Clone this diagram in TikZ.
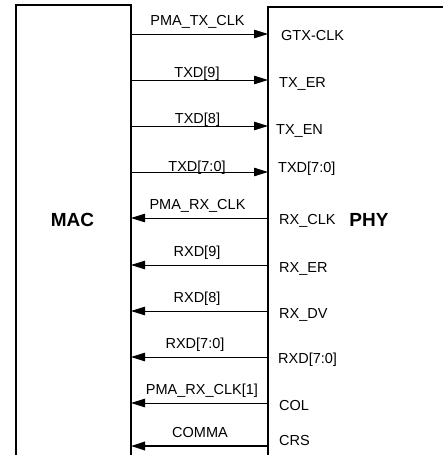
\documentclass[tikz,border=0pt]{standalone}
\usepackage{fontspec}
\setmainfont{Liberation Sans}
\usetikzlibrary{arrows.meta}
\begin{document}
\begin{tikzpicture}[x=1pt,y=-1pt,
  box/.style={line width=2pt},
  sig/.style={line width=1pt,-{Triangle[length=14pt,width=8.5pt]}},
  sigthick/.style={line width=1.8pt,-{Triangle[length=14pt,width=8.5pt]}},
  lbl/.style={font=\fontsize{14.5}{17}\selectfont,inner sep=0pt,anchor=base},
  port/.style={font=\fontsize{14.5}{17}\selectfont,inner sep=0pt,anchor=base west},
  big/.style={font=\fontsize{19}{22}\selectfont\bfseries,inner sep=0pt,anchor=base}]
\useasboundingbox (0,0) rectangle (443,455);
% boxes
\draw[box] (16,460) -- (16,5) -- (131,5) -- (131,460);
\draw[box] (268,460) -- (268,7) -- (450,7);
\node[big] (mac) at (72.5,226) {MAC};
\node[big] (phy) at (369,226) {PHY};
% edge coordinates
\foreach \i/\y in {1/34,2/80,3/126,4/172,5/218,6/265,7/311,8/357,9/403,10/446}{
  \coordinate (m\i) at (131,\y);
  \coordinate (p\i) at (268,\y);
}
% transmit
\draw[sig] (m1) -- (p1);
\draw[sig] (m2) -- (p2);
\draw[sig] (m3) -- (p3);
\draw[sig] (m4) -- (p4);
% receive
\draw[sig] (p5) -- (m5);
\draw[sig] (p6) -- (m6);
\draw[sig] (p7) -- (m7);
\draw[sig] (p8) -- (m8);
\draw[sig] (p9) -- (m9);
\draw[sigthick] (p10) -- (m10);
% signal labels
\node[lbl] (s1) at (197.5,25) {PMA\_TX\_CLK};
\node[lbl] (s2) at (197,77) {TXD[9]};
\node[lbl] (s3) at (197.5,123) {TXD[8]};
\node[lbl] (s4) at (197,171) {TXD[7:0]};
\node[lbl] (s5) at (197.5,209) {PMA\_RX\_CLK};
\node[lbl] (s6) at (197,256) {RXD[9]};
\node[lbl] (s7) at (197,302) {RXD[8]};
\node[lbl] (s8) at (195,348.5) {RXD[7:0]};
\node[lbl] (s9) at (202,394.5) {PMA\_RX\_CLK[1]};
\node[lbl] (s10) at (200,437) {COMMA};
% port labels
\node[port] (q1) at (281,40) {GTX-CLK};
\node[port] (q2) at (279,87) {TX\_ER};
\node[port] (q3) at (276,134) {TX\_EN};
\node[port] (q4) at (278,172) {TXD[7:0]};
\node[port] (q5) at (279,224) {RX\_CLK};
\node[port] (q6) at (279,272) {RX\_ER};
\node[port] (q7) at (279,318) {RX\_DV};
\node[port] (q8) at (278,363.5) {RXD[7:0]};
\node[port] (q9) at (279,410.5) {COL};
\node[port] (q10) at (279,445) {CRS};
\end{tikzpicture}
\end{document}
